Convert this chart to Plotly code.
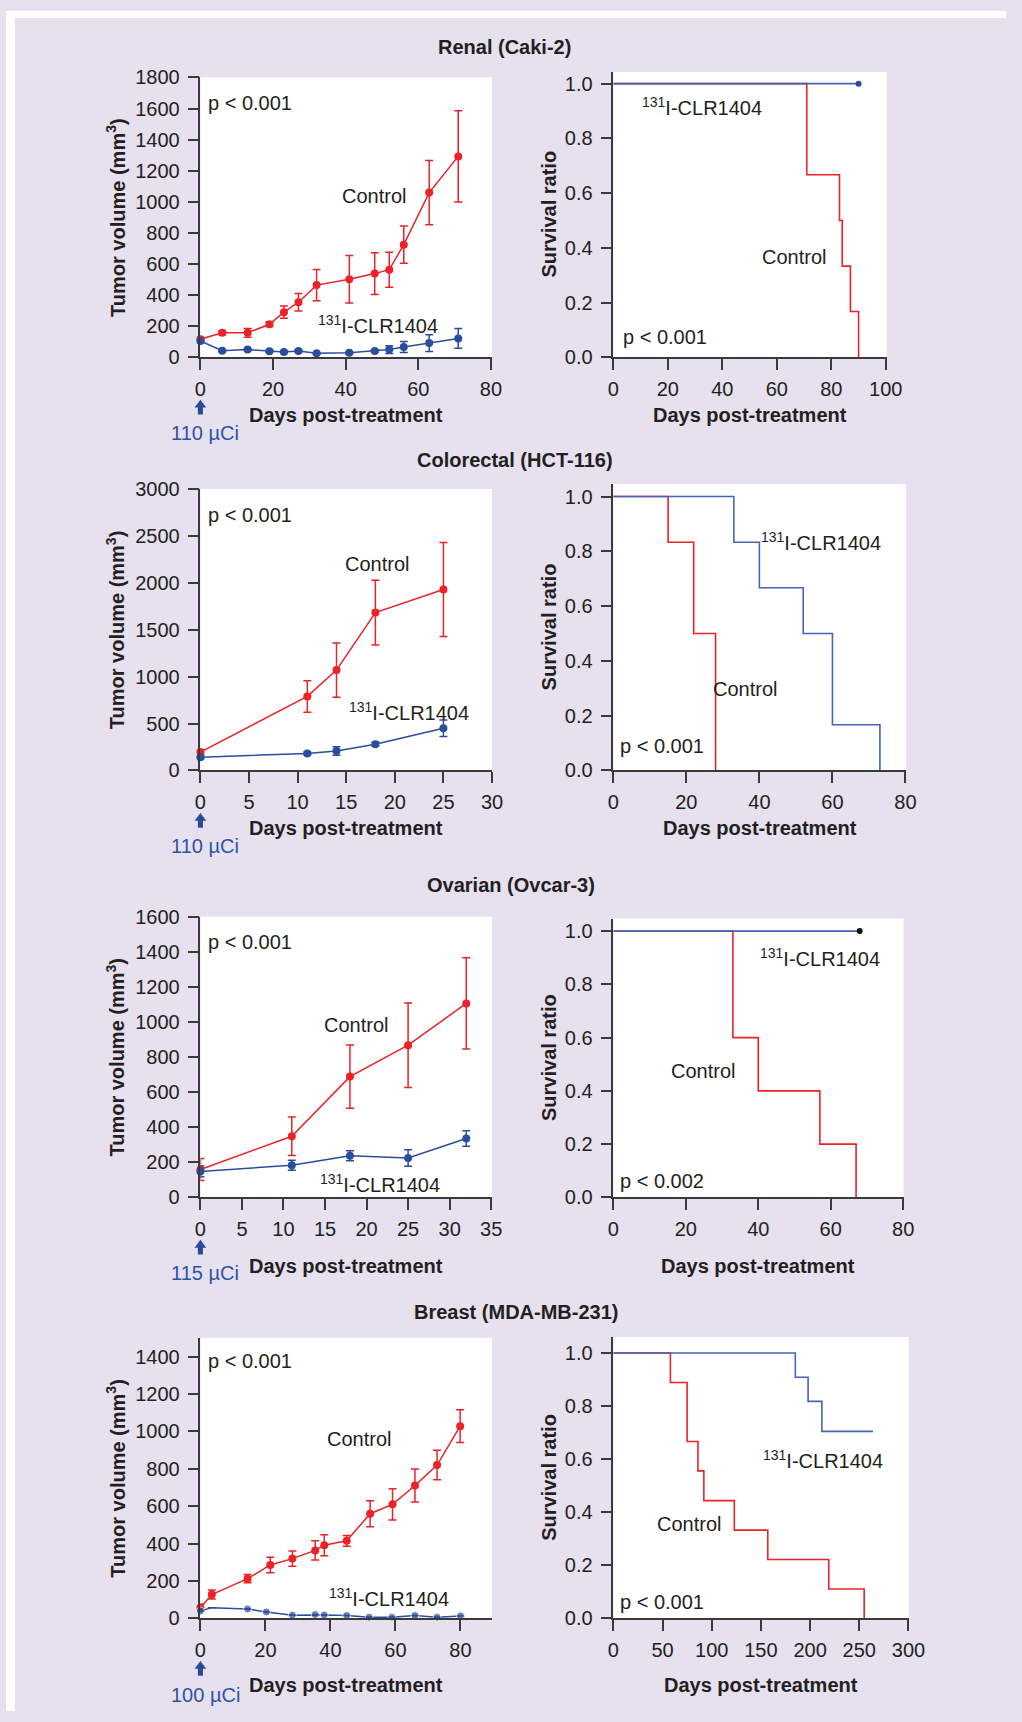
import plotly.graph_objects as go

W, H = 1022, 1722
BG = "#e6e0ef"
RED = "#ec2227"
BLUE = "#2b4d9e"
BLUE_KM = "#4664b6"
TXT = "#231f20"
AX = "#3a3a3a"
FONT = "Liberation Sans, Arial, Helvetica, sans-serif"

# ---------------- data ----------------
# Renal (Caki-2)
renal_days = [0, 6, 13, 19, 23, 27, 32, 41, 48, 52, 56, 63, 71]
renal_ctrl = [116, 157, 157, 212, 290, 354, 464, 502, 538, 563, 724, 1059, 1292]
renal_ctrl_err = [13, 12, 28, 14, 39, 56, 100, 153, 134, 113, 120, 206, 293]
renal_trt = [104, 42, 49, 38, 34, 40, 25, 28, 40, 49, 66, 91, 121]
renal_trt_err = [8, 6, 6, 6, 6, 6, 6, 6, 8, 25, 35, 54, 64]
renal_km_ctrl_t = [0, 71, 83, 84, 87, 90]
renal_km_ctrl_s = [1.0, 0.667, 0.5, 0.333, 0.167, 0.0]
renal_km_trt_t = [0, 90]
renal_km_trt_s = [1.0, 1.0]

# Colorectal (HCT-116)
crc_days = [0, 11, 14, 18, 25]
crc_ctrl = [196, 789, 1069, 1682, 1928]
crc_ctrl_err = [20, 168, 289, 345, 501]
crc_trt = [140, 182, 207, 280, 449]
crc_trt_err = [15, 15, 46, 20, 88]
crc_km_ctrl_t = [0, 15, 22, 28]
crc_km_ctrl_s = [1.0, 0.833, 0.5, 0.0]
crc_km_trt_t = [0, 33, 40, 52, 60, 73]
crc_km_trt_s = [1.0, 0.833, 0.667, 0.5, 0.167, 0.0]

# Ovarian (Ovcar-3)
ov_days = [0, 11, 18, 25, 32]
ov_ctrl = [159, 348, 688, 867, 1105]
ov_ctrl_err = [63, 110, 180, 241, 260]
ov_trt = [148, 183, 237, 224, 335]
ov_trt_err = [31, 29, 28, 47, 44]
ov_km_ctrl_t = [0, 33, 40, 57, 67]
ov_km_ctrl_s = [1.0, 0.6, 0.4, 0.2, 0.0]
ov_km_trt_t = [0, 68]
ov_km_trt_s = [1.0, 1.0]

# Breast (MDA-MB-231)
br_ctrl_days = [0, 3.5, 14.5, 21.5, 28.3, 35.3, 38.1, 45, 52.2, 59.1, 66, 72.8, 79.9]
br_ctrl = [58, 128, 213, 286, 320, 364, 392, 415, 560, 610, 711, 820, 1028]
br_ctrl_err = [19, 24, 22, 42, 41, 51, 56, 29, 69, 83, 88, 79, 88]
br_trt_days = [0, 3.5, 14.5, 20.3, 28.3, 35.3, 38.1, 45, 51.9, 58.9, 66, 72.8, 80]
br_trt = [40, 58, 51, 35, 18, 21, 19, 16, 7, 7, 16, 7, 14]
br_trt_marker = [8, 0, 8, 8, 8, 8, 8, 8, 8, 8, 8, 8, 8]
br_km_ctrl_t = [0, 58, 75, 86, 92, 123, 157, 219, 255]
br_km_ctrl_s = [1.0, 0.889, 0.667, 0.556, 0.444, 0.333, 0.222, 0.111, 0.0]
br_km_trt_t = [0, 185, 198, 212, 264]
br_km_trt_s = [1.0, 0.909, 0.818, 0.705, 0.705]

titles = ["Renal (Caki-2)", "Colorectal (HCT-116)", "Ovarian (Ovcar-3)", "Breast (MDA-MB-231)"]
doses = ["110 µCi", "110 µCi", "115 µCi", "100 µCi"]
tumor_yticks = [list(range(0, 1801, 200)), list(range(0, 3001, 500)),
                list(range(0, 1601, 200)), list(range(0, 1401, 200))]
tumor_xticks = [list(range(0, 81, 20)), list(range(0, 31, 5)),
                list(range(0, 36, 5)), list(range(0, 81, 20))]
surv_xticks = [list(range(0, 101, 20)), list(range(0, 81, 20)),
               list(range(0, 81, 20)), list(range(0, 301, 50))]
surv_yticks = [0, 0.2, 0.4, 0.6, 0.8, 1.0]

# ---------------- layout geometry (pixels) ----------------
xdom = {1: (198.7, 496.7), 2: (620.7, 900), 3: (198.7, 496.7), 4: (620.7, 920),
        5: (198.7, 496.7), 6: (620.7, 917.3), 7: (198.7, 496.7), 8: (620.7, 922.5)}
ydom = {1: (67.3, 350.7), 2: (61.7, 350.7), 3: (484, 769.3), 4: (479.3, 769.3),
        5: (917.3, 1201.7), 6: (919.3, 1201.7), 7: (1344, 1628.3), 8: (1343.3, 1628.3)}
xrng = {1: [0, 80.3], 2: [0, 100.3], 3: [0, 30], 4: [0, 80.2],
        5: [0, 35.1], 6: [0, 80.1], 7: [0, 89.7], 8: [0, 300.2]}
yrng = {1: [0, 1800], 2: [0, 1.043], 3: [0, 3000], 4: [0, 1.045],
        5: [0, 1600], 6: [0, 1.047], 7: [0, 1500], 8: [0, 1.06]}


def px(x):
    return x / W


def py(y):
    return 1 - y / H


fig = go.Figure()


def axname(i, letter):
    return letter if i == 1 else f"{letter}{i}"


def tumor_traces(i, xc, yc, ec, xt, yt, et, msize_t=8):
    xa, ya = axname(i, "x"), axname(i, "y")
    fig.add_trace(go.Scatter(x=xc, y=yc, xaxis=xa, yaxis=ya, mode="lines+markers",
                             line=dict(color=RED, width=1.5), marker=dict(color=RED, size=8),
                             error_y=dict(type="data", array=ec, color=RED, thickness=1.5, width=4),
                             cliponaxis=False, showlegend=False))
    fig.add_trace(go.Scatter(x=xt, y=yt, xaxis=xa, yaxis=ya, mode="lines+markers",
                             line=dict(color=BLUE, width=1.5), marker=dict(color=BLUE, size=msize_t),
                             error_y=dict(type="data", array=et, color=BLUE, thickness=1.5, width=4),
                             cliponaxis=False, showlegend=False))


def km_traces(i, tc, sc, tt, st, dot=None):
    xa, ya = axname(i, "x"), axname(i, "y")
    fig.add_trace(go.Scatter(x=tc, y=sc, xaxis=xa, yaxis=ya, mode="lines",
                             line=dict(color=RED, width=1.6, shape="hv"),
                             cliponaxis=False, showlegend=False))
    fig.add_trace(go.Scatter(x=tt, y=st, xaxis=xa, yaxis=ya, mode="lines",
                             line=dict(color=BLUE_KM, width=1.6, shape="hv"),
                             cliponaxis=False, showlegend=False))
    if dot is not None:
        fig.add_trace(go.Scatter(x=[tt[-1]], y=[st[-1]], xaxis=xa, yaxis=ya, mode="markers",
                                 marker=dict(color=dot, size=6), cliponaxis=False, showlegend=False))


tumor_traces(1, renal_days, renal_ctrl, renal_ctrl_err, renal_days, renal_trt, renal_trt_err)
km_traces(2, renal_km_ctrl_t, renal_km_ctrl_s, renal_km_trt_t, renal_km_trt_s, dot=BLUE)
tumor_traces(3, crc_days, crc_ctrl, crc_ctrl_err, crc_days, crc_trt, crc_trt_err)
km_traces(4, crc_km_ctrl_t, crc_km_ctrl_s, crc_km_trt_t, crc_km_trt_s)
tumor_traces(5, ov_days, ov_ctrl, ov_ctrl_err, ov_days, ov_trt, ov_trt_err)
km_traces(6, ov_km_ctrl_t, ov_km_ctrl_s, ov_km_trt_t, ov_km_trt_s, dot="#111111")
tumor_traces(7, br_ctrl_days, br_ctrl, br_ctrl_err, br_trt_days, br_trt, [0] * len(br_trt),
             msize_t=br_trt_marker)
km_traces(8, br_km_ctrl_t, br_km_ctrl_s, br_km_trt_t, br_km_trt_s)

layout = dict(width=W, height=H, margin=dict(l=0, r=0, t=0, b=0),
              paper_bgcolor=BG, plot_bgcolor="white", showlegend=False,
              font=dict(family=FONT, size=20, color=TXT))

tick_font = dict(family=FONT, size=20, color=TXT)
for i in range(1, 9):
    row = (i - 1) // 2
    is_tumor = (i % 2 == 1)
    xk = "xaxis" if i == 1 else f"xaxis{i}"
    yk = "yaxis" if i == 1 else f"yaxis{i}"
    xd, yd = xdom[i], ydom[i]
    common = dict(showline=True, linecolor=AX, linewidth=1.5, ticks="outside", ticklen=11,
                  tickwidth=1.5, tickcolor=AX, showgrid=False, zeroline=False,
                  tickfont=tick_font, fixedrange=True)
    layout[xk] = dict(common, domain=[px(xd[0]), px(xd[1])], range=xrng[i],
                      anchor=axname(i, "y"), tickmode="array",
                      tickvals=(tumor_xticks[row] if is_tumor else surv_xticks[row]),
                      ticklabelstandoff=2)
    layout[yk] = dict(common, domain=[py(yd[1]), py(yd[0])], range=yrng[i],
                      anchor=axname(i, "x"), tickmode="array",
                      tickvals=(tumor_yticks[row] if is_tumor else surv_yticks),
                      tickformat=("d" if is_tumor else ".1f"), ticklabelstandoff=4)

annotations = []
shapes = []


def ann(text, x, y, xanchor="left", size=20, color=TXT, angle=0):
    annotations.append(dict(text=text, x=px(x), y=py(y), xref="paper", yref="paper",
                            xanchor=xanchor, yanchor="middle", showarrow=False,
                            textangle=angle, font=dict(family=FONT, size=size, color=color)))


title_pos = [(509, 36), (520, 455), (516, 885), (521, 1318)]
xtitle_off = [59, 58, 70, 67]
for r in range(4):
    ann(f"<b>{titles[r]}</b>", title_pos[r][0], title_pos[r][1], xanchor="center", size=20)
    it, isv = 2 * r + 1, 2 * r + 2
    ann("<b>Tumor volume (mm<sup>3</sup>)</b>", 112, (ydom[it][0] + ydom[it][1]) / 2,
        xanchor="center", angle=-90)
    ann("<b>Survival ratio</b>", 555, (ydom[isv][0] + ydom[isv][1]) / 2,
        xanchor="center", angle=-90)
    ann("<b>Days post-treatment</b>", (xdom[it][0] + xdom[it][1]) / 2,
        ydom[it][1] + xtitle_off[r], xanchor="center")
    ann("<b>Days post-treatment</b>", (xdom[isv][0] + xdom[isv][1]) / 2,
        ydom[isv][1] + xtitle_off[r], xanchor="center")
    bot = ydom[it][1]
    ann(doses[r], 167, bot + 77, color="#2f53a4")
    ax0 = xdom[it][0]
    tip = bot + 43
    pts = [(ax0, tip), (ax0 + 6, tip + 8), (ax0 + 2.6, tip + 8), (ax0 + 2.6, tip + 15),
           (ax0 - 2.6, tip + 15), (ax0 - 2.6, tip + 8), (ax0 - 6, tip + 8)]
    path = "M " + " L ".join(f"{px(a):.5f},{py(b):.5f}" for a, b in pts) + " Z"
    shapes.append(dict(type="path", path=path, xref="paper", yref="paper",
                       fillcolor="#2a4a9a", line=dict(width=0)))

ISO = "<sup>131</sup>I-CLR1404"
labels = [
    ("p < 0.001", 206, 93), ("Control", 343, 187), (ISO, 319, 318),
    (ISO, 650, 97), ("Control", 773, 249), ("p < 0.001", 631, 330),
    ("p < 0.001", 206, 511), ("Control", 346, 560), (ISO, 351, 710),
    (ISO, 772, 537), ("Control", 723, 687), ("p < 0.001", 627, 745),
    ("p < 0.001", 206, 943), ("Control", 325, 1027), (ISO, 321, 1188),
    (ISO, 771, 959), ("Control", 680, 1074), ("p < 0.002", 627, 1185),
    ("p < 0.001", 206, 1367), ("Control", 328, 1446), (ISO, 330, 1607),
    (ISO, 774, 1467), ("Control", 665, 1533), ("p < 0.001", 627, 1612),
]
for t, x, y in labels:
    ann(t, x - 2, y)

# white border strips (left / top) as in the source figure
shapes.append(dict(type="rect", xref="paper", yref="paper", x0=0, x1=px(9), y0=0, y1=1,
                   fillcolor="white", line=dict(width=0), layer="below"))
shapes.append(dict(type="rect", xref="paper", yref="paper", x0=0, x1=1, y0=py(7), y1=1,
                   fillcolor="white", line=dict(width=0), layer="below"))

layout["annotations"] = annotations
layout["shapes"] = shapes
fig.update_layout(**layout)

fig.write_html("out.html", config={"displayModeBar": False},
               post_script="document.body.style.margin='0';")
